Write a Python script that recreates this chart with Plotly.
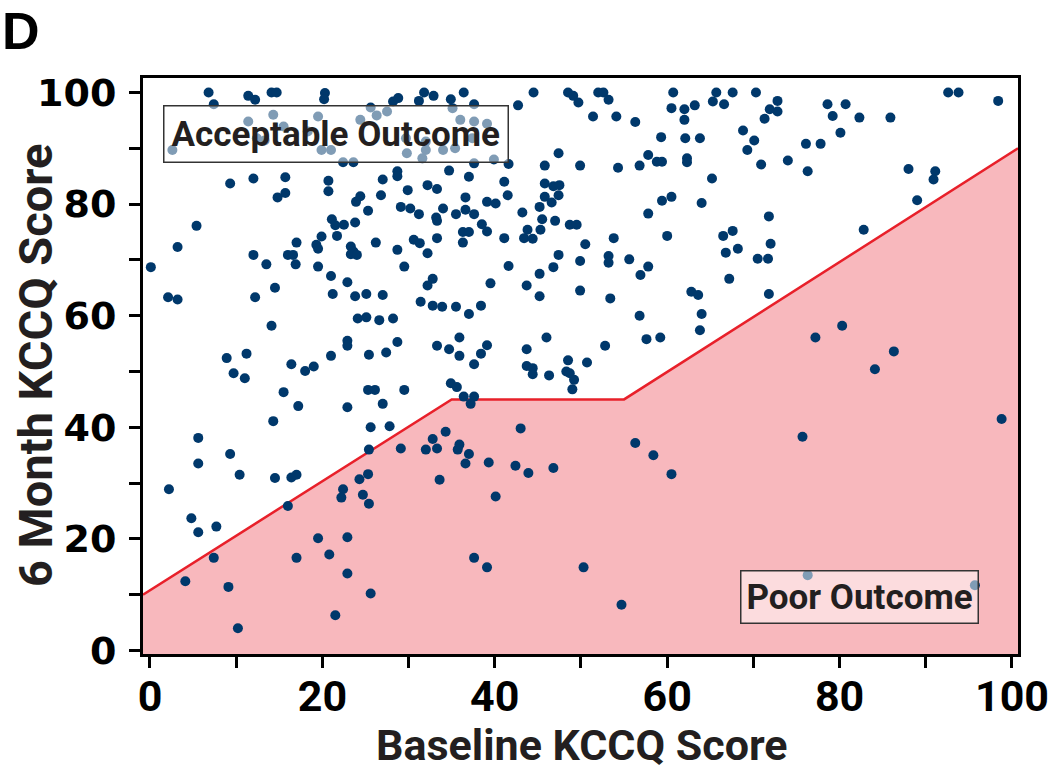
import plotly.graph_objects as go

# Baseline KCCQ (x) and 6-month KCCQ (y) for each patient
baseline = [
    6.8, 7.4, 11.4, 12.2, 14.1, 14.7, 20.3, 20.2, 25.6, 26.3, 27.5, 28.2, 28.8, 31.2, 31.8, 32.9,
    14.3, 19.5, 11.4, 15.5, 18.3, 12.4, 13.3, 2.6, 19.9, 21.0, 24.4, 29.7, 32.0, 32.0, 29.8, 31.6,
    22.4, 23.6, 9.3, 12.0, 15.7, 20.7, 20.7, 14.8, 15.7, 27.0, 28.7, 28.7, 26.8, 24.4, 23.9, 29.9,
    32.2, 25.3, 29.1, 30.2, 31.2, 5.4, 21.1, 22.5, 23.8, 21.5, 21.7, 19.9, 17.0, 19.3, 19.5, 23.3,
    23.6, 23.3, 24.0, 26.2, 28.7, 30.6, 31.3, 32.2, 3.2, 12.0, 16.0, 16.6, 13.5, 16.9,
    34.9, 36.4, 37.6, 35.1, 36.0, 37.6, 39.1, 37.4, 34.0, 35.4, 37.6, 39.9, 42.7, 44.5, 48.5, 49.1,
    49.7, 52.0, 52.6, 53.2, 51.4, 54.1, 56.3, 60.7, 60.5, 62.0, 63.2, 62.0, 65.7, 65.3, 66.6, 59.3,
    62.1, 63.8, 47.4, 41.6, 45.8, 49.9, 54.3, 56.8, 57.8, 58.8, 59.4, 62.3, 62.3, 34.7, 37.0, 41.1,
    45.8, 46.8, 47.5, 47.4, 45.8, 46.6, 45.2, 41.5, 39.1, 40.1, 36.6, 33.3, 34.0, 36.6, 35.5, 37.6,
    33.2, 33.3, 43.2, 45.5, 47.0, 45.3, 43.8, 43.4, 44.4, 48.7, 49.5, 38.5, 39.1, 36.3, 37.0, 33.3,
    36.3, 41.1, 50.5, 53.8, 57.8, 59.4, 60.5, 65.2, 64.0, 60.0, 66.5, 47.4, 49.9, 53.2, 53.2, 55.6,
    67.6, 70.3, 72.8, 71.9, 72.8, 71.3, 78.6, 80.7, 79.2, 82.3, 85.9, 80.1, 92.6, 93.8, 98.4, 68.8,
    70.1, 69.3, 76.1, 77.8, 74.0, 70.9, 76.3, 88.0, 91.1, 90.9, 89.0, 71.8, 67.6, 66.8, 68.2, 72.0,
    70.5, 71.7, 82.8,
    0.1, 19.5, 29.5, 21.0, 22.9, 14.5, 2.1, 3.2, 12.2, 21.2, 23.8, 25.1, 27.0, 31.4, 32.8, 32.2,
    32.8, 14.1, 24.1, 25.1, 26.6, 28.2, 22.9, 22.9, 28.7, 8.9, 11.2, 9.7, 11.0, 16.4, 18.0, 19.0,
    21.0, 25.4, 27.4, 15.5, 17.2, 22.9, 25.3, 26.1, 29.5, 27.0, 14.3, 5.6, 25.6, 27.8, 9.3, 25.4,
    29.1, 32.0, 32.8,
    41.6, 46.8, 57.8, 56.9, 45.2, 39.5, 43.7, 49.9, 45.2, 53.4, 62.8, 63.6, 33.9, 35.5, 37.0, 38.4,
    56.8, 64.0, 63.8, 33.3, 34.7, 35.9, 35.9, 39.1, 38.4, 37.6, 43.7, 46.0, 52.8, 57.6, 59.2, 43.7,
    44.4, 44.4, 46.3, 48.5, 50.7, 48.3, 48.7, 49.2, 49.0, 34.9, 35.6, 36.4, 37.6, 37.2, 43.0, 34.3,
    33.3, 35.9, 35.7, 37.0, 56.3, 58.4,
    67.2, 71.8, 80.3, 77.2, 86.3, 84.1, 98.8, 75.7,
    5.6, 10.4, 2.2, 14.5, 16.4, 17.0, 4.8, 5.6, 7.7, 16.0, 22.4, 22.2, 24.3, 25.3, 24.7, 25.4,
    7.4, 4.1, 9.1, 10.2, 19.5, 22.9, 17.0, 20.8, 22.9, 25.6, 21.5,
    36.6, 33.6, 39.3, 42.4, 43.9, 46.8, 40.1, 60.5, 37.6, 39.1, 50.3, 54.7,
    76.3, 95.7,
]
six_month = [
    100.0, 97.9, 99.4, 98.7, 100.0, 100.0, 99.9, 98.8, 97.3, 95.9, 96.6, 98.4, 99.0, 98.5, 100.0, 99.4,
    96.0, 95.7, 94.8, 93.9, 93.0, 91.8, 91.4, 89.7, 89.7, 89.7, 95.1, 91.8, 91.2, 89.7, 89.1, 88.2,
    87.5, 87.5, 83.7, 84.6, 84.8, 84.2, 82.3, 81.2, 82.0, 84.4, 85.9, 85.0, 81.6, 81.4, 80.4, 82.5,
    83.4, 78.8, 79.5, 79.2, 78.2, 76.1, 77.3, 76.3, 76.7, 76.2, 74.3, 74.2, 73.1, 72.7, 72.0, 72.4,
    71.5, 71.0, 70.9, 73.1, 71.8, 73.6, 73.0, 71.2, 72.3, 70.9, 70.9, 70.9, 69.2, 69.2,
    98.8, 100.0, 97.9, 97.2, 95.1, 94.8, 94.4, 91.8, 89.7, 90.0, 87.3, 88.0, 97.7, 100.0, 100.0, 99.4,
    98.2, 100.0, 100.0, 98.7, 95.7, 95.7, 94.7, 100.0, 97.2, 97.0, 97.7, 95.1, 100.0, 98.4, 97.9, 92.0,
    91.8, 91.8, 89.1, 87.2, 86.9, 86.9, 86.5, 86.9, 88.8, 87.6, 87.6, 88.2, 87.5, 86.0, 84.9, 84.0,
    83.7, 83.2, 83.4, 81.6, 81.3, 80.3, 79.5, 81.6, 80.4, 80.1, 81.2, 82.7, 79.2, 79.0, 78.2, 78.2,
    77.6, 77.0, 78.5, 77.3, 77.0, 75.4, 75.4, 73.9, 73.8, 76.3, 76.3, 76.4, 75.1, 75.0, 75.0, 73.9,
    73.1, 73.9, 72.8, 73.9, 78.3, 80.6, 81.3, 84.6, 80.2, 74.3, 74.3, 70.9, 69.8, 70.7, 69.5, 70.1,
    100.0, 100.0, 98.5, 97.0, 96.6, 95.3, 97.9, 97.9, 95.8, 95.5, 95.5, 92.8, 100.0, 100.0, 98.5, 93.2,
    91.4, 89.7, 90.8, 90.8, 87.8, 87.1, 85.9, 86.3, 85.9, 84.4, 80.7, 77.8, 75.2, 71.3, 72.0, 72.9,
    70.2, 70.2, 75.4,
    68.7, 68.8, 68.8, 67.1, 66.0, 65.0, 63.3, 62.9, 63.3, 63.9, 63.5, 63.9, 63.7, 62.5, 66.6, 65.4,
    61.8, 58.2, 59.5, 59.7, 59.2, 59.5, 55.5, 54.6, 55.3, 52.4, 53.2, 49.7, 48.8, 51.3, 50.1, 50.9,
    52.8, 53.0, 53.4, 46.3, 43.8, 43.6, 46.7, 46.7, 46.7, 44.2, 41.1, 38.1, 40.0, 40.2, 35.2, 36.0,
    36.2, 36.0, 37.9,
    68.9, 68.7, 68.8, 67.3, 67.5, 65.8, 65.4, 64.5, 63.5, 63.1, 64.3, 63.7, 61.6, 61.6, 60.3, 61.8,
    60.0, 60.3, 57.4, 54.6, 54.0, 56.1, 52.8, 54.7, 53.2, 51.3, 54.0, 56.1, 54.6, 55.8, 56.1, 51.0,
    50.6, 49.5, 49.3, 52.0, 51.6, 50.0, 49.7, 48.5, 46.8, 47.9, 47.2, 45.5, 45.5, 44.2, 39.8, 39.2,
    36.2, 36.9, 36.0, 35.2, 37.2, 35.0,
    66.6, 63.9, 58.2, 56.1, 53.6, 50.4, 41.5, 38.3,
    33.5, 31.5, 28.9, 30.9, 31.0, 31.5, 23.7, 21.2, 22.2, 25.9, 28.9, 27.4, 30.7, 31.6, 27.9, 26.3,
    16.6, 12.4, 11.4, 4.0, 20.1, 20.3, 16.6, 17.2, 13.8, 10.2, 6.3,
    33.5, 30.6, 33.7, 33.1, 31.8, 32.7, 27.6, 31.6, 16.6, 14.9, 14.9, 8.2,
    13.5, 11.7,
]

# Poor-outcome threshold (vertices of the boundary line)
threshold_x = [-0.81, 35, 55, 100.7]
threshold_y = [10, 45, 45, 90]

x_range = [-0.81, 100.7]
y_range = [-0.63, 102.6]

x_ticks = [0, 20, 40, 60, 80, 100]
y_ticks = [0, 20, 40, 60, 80, 100]

NAVY = "#00386b"
PINK = "#f8b8bd"
RED = "#e8202a"
NARROW = "Roboto, sans-serif"

fig = go.Figure()

# shaded poor-outcome region
fig.add_trace(go.Scatter(
    x=[x_range[0]] + threshold_x + [x_range[1], x_range[0]],
    y=[y_range[0]] + threshold_y + [y_range[0], y_range[0]],
    mode="lines", fill="toself", fillcolor=PINK,
    line=dict(width=0), hoverinfo="skip", showlegend=False,
))
# threshold line
fig.add_trace(go.Scatter(
    x=threshold_x, y=threshold_y, mode="lines",
    line=dict(color=RED, width=2.5), hoverinfo="skip", showlegend=False,
))
# patients
fig.add_trace(go.Scatter(
    x=baseline, y=six_month, mode="markers",
    marker=dict(color=NAVY, size=10, line=dict(width=0)),
    showlegend=False,
))

axis_common = dict(
    showgrid=False, zeroline=False, showline=True, linewidth=3, linecolor="black",
    mirror=True, ticks="outside", ticklen=11, tickwidth=2.5, tickcolor="black",
    automargin=False, ticklabeloverflow="allow",
    minor=dict(dtick=10, tick0=0, ticks="outside", ticklen=11, tickwidth=2.5, tickcolor="black"),
)

fig.update_xaxes(
    range=x_range, tickvals=x_ticks, ticktext=[str(v) for v in x_ticks],
    tickfont=dict(family=NARROW, size=43, color="black", weight="bold"),
    ticklabelstandoff=-9,
    **axis_common,
)
fig.update_yaxes(
    range=y_range, tickvals=y_ticks, ticktext=[str(v) for v in y_ticks],
    tickfont=dict(family="DejaVu Sans", size=38, color="black", weight="bold"),
    ticklabelstandoff=5,
    **axis_common,
)

fig.update_layout(
    width=1050, height=769,
    margin=dict(l=143, r=32, t=78, b=115),
    plot_bgcolor="white", paper_bgcolor="white",
    annotations=[
        dict(text="Acceptable Outcome", x=21.55, y=92.6, xref="x", yref="y",
             showarrow=False, xanchor="center", yanchor="middle",
             font=dict(family=NARROW, size=35, color="#231f20", weight="bold"),
             bgcolor="rgba(255,255,255,0.5)", bordercolor="#333333", borderwidth=1.5, borderpad=7),
        dict(text="Poor Outcome", x=82.3, y=9.6, xref="x", yref="y",
             showarrow=False, xanchor="center", yanchor="middle",
             font=dict(family=NARROW, size=35, color="#231f20", weight="bold"),
             bgcolor="rgba(255,255,255,0.5)", bordercolor="#333333", borderwidth=1.5, borderpad=5),
        dict(text="D", x=-0.1623, y=1.133, xref="paper", yref="paper",
             showarrow=False, xanchor="left", yanchor="top", borderpad=0,
             font=dict(family="Liberation Sans, Arial, sans-serif", size=52, color="black", weight="bold")),
        dict(text="6 Month KCCQ Score", x=-0.1234, y=0.5, xref="paper", yref="paper",
             showarrow=False, xanchor="center", yanchor="middle", textangle=-90,
             font=dict(family=NARROW, size=47, color="#231f20", weight="bold")),
        dict(text="Baseline KCCQ Score", x=0.502, y=-0.1585, xref="paper", yref="paper",
             showarrow=False, xanchor="center", yanchor="middle",
             font=dict(family=NARROW, size=43, color="#231f20", weight="bold")),
    ],
)

fig.write_html(
    "out.html",
    config={"displayModeBar": False},
    post_script="document.body.style.margin='0';document.body.style.padding='0';",
)
